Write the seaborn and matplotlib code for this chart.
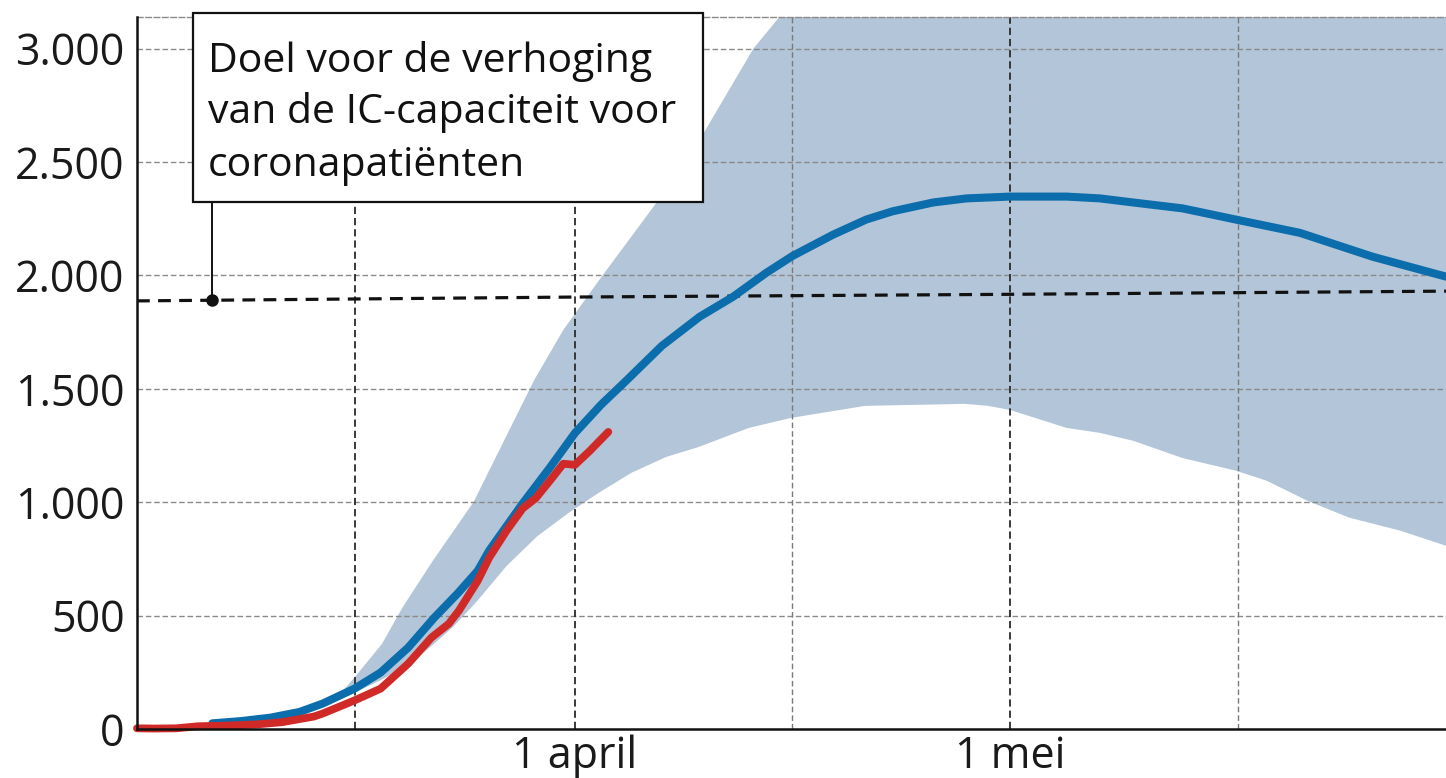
import numpy as np
import pandas as pd
import matplotlib
matplotlib.use("Agg")
import matplotlib.pyplot as plt
from matplotlib.patches import Rectangle
import seaborn as sns

# ---- data (x = day number, day 0 = 1 March; 1 april = 31, 1 mei = 61) ----
model_days = [6.0, 8.0, 10.0, 12.0, 13.6, 15.8, 17.6, 19.5, 21.3, 22.9, 24.3, 25.1, 27.4,
              29.3, 31.0, 32.8, 34.6, 37.0, 39.6, 41.9, 44.2, 46.0, 48.8, 51.1, 52.9, 55.7,
              58.0, 61.0, 64.9, 67.2, 69.5, 72.9, 76.7, 81.0, 86.0, 91.07]
model_vals = [25, 35, 50, 75, 112, 178, 249, 359, 491, 597, 698, 788, 995,
              1155, 1305, 1430, 1540, 1690, 1818, 1906, 2012, 2086, 2180, 2247, 2283, 2322,
              2340, 2348, 2348, 2340, 2322, 2296, 2245, 2188, 2083, 1995]

actual_days = [0.8, 2.0, 3.5, 5.0, 7.0, 9.0, 10.8, 13.0, 13.6, 15.8, 17.6, 19.5, 21.1,
               22.3, 23.0, 24.3, 25.1, 26.3, 27.4, 28.3, 29.3, 30.2, 31.0, 32.0, 33.3]
actual_vals = [3, 2, 3, 12, 15, 20, 30, 55, 68, 126, 178, 288, 403,
               464, 522, 654, 757, 876, 973, 1018, 1097, 1170, 1165, 1225, 1310]

upper_days = [13.5, 14.6, 15.8, 17.7, 19.1, 21.2, 24.0, 28.2, 30.2, 32.9, 38.7, 43.3,
              45.1, 50.0, 91.07]
upper_vals = [95, 140, 227, 376, 535, 742, 1000, 1540, 1760, 2000, 2500, 3000,
              3140, 3500, 4700]

lower_days = [13.5, 15.8, 17.6, 19.3, 21.0, 22.6, 24.2, 26.3, 28.4, 30.5, 32.6, 34.9,
              37.3, 39.5, 43.0, 45.9, 51.0, 57.9, 59.5, 61.0, 64.9, 67.2, 69.5, 72.9,
              76.6, 78.7, 81.5, 84.4, 87.9, 91.07]
lower_vals = [95, 160, 215, 275, 360, 450, 560, 720, 850, 950, 1040, 1130,
              1200, 1243, 1328, 1372, 1425, 1434, 1425, 1407, 1328, 1306, 1271, 1195,
              1139, 1095, 1007, 932, 875, 808]

target_days = [0.8, 31.0, 61.0, 91.07]
target_vals = [1888, 1905, 1917, 1931]
target_marker = (6.0, 1890)

y_ticks = [0, 500, 1000, 1500, 2000, 2500, 3000]
y_labels = ["0", "500", "1.000", "1.500", "2.000", "2.500", "3.000"]
x_grid_days = [15.8, 31, 46, 61, 76.7]
x_labels = {31: "1 april", 61: "1 mei"}
note_lines = ["Doel voor de verhoging", "van de IC-capaciteit voor", "coronapatiënten"]

# ---- style ----
sns.set_theme(style="white")
plt.rcParams["font.family"] = ["Open Sans", "DejaVu Sans"]

W, H = 1446, 778
fig = plt.figure(figsize=(W / 100, H / 100), dpi=100)
ax = fig.add_axes([137 / W, 1 - 729 / H, 1 - 137 / W, (729 - 17) / H])

BAND = "#b3c5d8"
BLUE = "#0b6dab"
RED = "#cf2a28"

# confidence band
ax.fill(np.concatenate([upper_days, lower_days[::-1]]),
        np.concatenate([upper_vals, lower_vals[::-1]]),
        color=BAND, lw=0, zorder=1)

# grid
for yv in y_ticks[1:]:
    ax.axhline(yv, color="#8a8a8a", lw=1.0, dashes=(4, 2), zorder=2)
for i, xd in enumerate(x_grid_days):
    dark = xd in x_labels or i == 0
    ax.axvline(xd, color="#2a2a2a" if dark else "#7a7a7a", lw=1.3 if dark else 1.0,
               dashes=(4, 2.2), zorder=2)

# target line
sns.lineplot(x=target_days, y=target_vals, ax=ax, color="#111111", lw=2.3,
             zorder=3).lines[-1].set_dashes((4, 2.6))

df_m = pd.DataFrame({"day": model_days, "val": model_vals})
df_a = pd.DataFrame({"day": actual_days, "val": actual_vals})
lb = sns.lineplot(data=df_m, x="day", y="val", ax=ax, color=BLUE, lw=5.8, zorder=4).lines[-1]
lb.set_solid_joinstyle("round")
lr = sns.lineplot(data=df_a, x="day", y="val", ax=ax, color=RED, lw=5.6, zorder=5).lines[-1]
lr.set_solid_capstyle("round")
lr.set_solid_joinstyle("round")
lr.set_clip_on(False)

# annotation leader + dot
box_bottom_val = (728.5 - 202) / 0.2267
ax.plot([target_marker[0], target_marker[0]], [target_marker[1], box_bottom_val],
        color="#111111", lw=1.4, zorder=6, clip_on=False)
ax.plot([target_marker[0]], [target_marker[1]], "o", color="#111111", ms=8, zorder=7)

# axes formatting
ax.set_xlim(0.8, 91.07)
ax.set_ylim(0, 3140)
ax.set_yticks(y_ticks)
ax.set_yticklabels(y_labels)
ax.set_xticks(list(x_labels.keys()))
ax.set_xticklabels(list(x_labels.values()))
ax.tick_params(axis="both", length=0, labelsize=31, colors="#1a1a1a")
ax.tick_params(axis="y", pad=9)
ax.tick_params(axis="x", pad=4)
ax.set_xlabel("")
ax.set_ylabel("")
ax.grid(False)
for s in ["left", "bottom"]:
    ax.spines[s].set_color("#111111")
    ax.spines[s].set_linewidth(1.8)
    ax.spines[s].set_zorder(8)
ax.spines["right"].set_visible(False)
ax.spines["top"].set_color("#8a8a8a")
ax.spines["top"].set_linewidth(1.0)
ax.spines["top"].set_linestyle((0, (4, 2)))

# note box (figure pixel coordinates)
fig.add_artist(Rectangle((193 / W, 1 - 202 / H), (703 - 193) / W, (202 - 13) / H,
                         transform=fig.transFigure, facecolor="white",
                         edgecolor="#111111", lw=1.6, zorder=10))
for line, base in zip(note_lines, [72, 123, 176]):
    fig.text(208 / W, 1 - base / H, line, fontsize=29.5, color="#111111",
             va="baseline", ha="left", zorder=11)

fig.savefig("out.png", dpi=100)
